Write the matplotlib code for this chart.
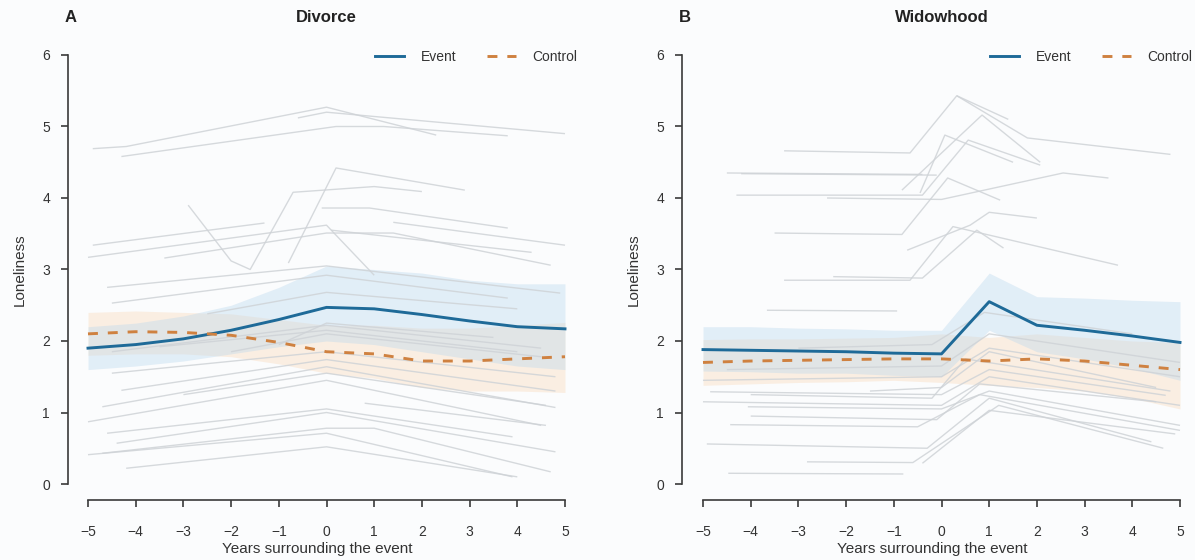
import matplotlib
matplotlib.use("Agg")
import matplotlib.pyplot as plt
import numpy as np

plt.rcParams['font.family'] = ['Liberation Sans', 'DejaVu Sans']

years = [-5, -4, -3, -2, -1, 0, 1, 2, 3, 4, 5]
xticks = years
yticks = [0, 1, 2, 3, 4, 5, 6]

# Panel A: Divorce
div_event = [1.90, 1.95, 2.03, 2.15, 2.30, 2.47, 2.45, 2.37, 2.28, 2.20, 2.17]
div_event_lo = [1.60, 1.65, 1.72, 1.82, 1.92, 2.00, 1.95, 1.85, 1.75, 1.65, 1.60]
div_event_hi = [2.20, 2.25, 2.35, 2.50, 2.75, 3.05, 3.00, 2.95, 2.85, 2.80, 2.80]
div_ctrl = [2.10, 2.13, 2.12, 2.08, 1.98, 1.85, 1.82, 1.72, 1.72, 1.75, 1.78]
div_ctrl_lo = [1.80, 1.82, 1.82, 1.78, 1.68, 1.55, 1.48, 1.35, 1.30, 1.30, 1.28]
div_ctrl_hi = [2.40, 2.42, 2.40, 2.38, 2.30, 2.22, 2.22, 2.18, 2.18, 2.22, 2.26]

div_indiv = [
    ([-4.9, -4.2, 0.0, 2.3], [4.69, 4.72, 5.27, 4.88]),
    ([-4.3, 0.2, 1.2, 3.8], [4.58, 5.00, 5.00, 4.87]),
    ([-0.6, 0.0, 5.0], [5.12, 5.20, 4.90]),
    ([-0.8, 0.2, 2.9], [3.09, 4.42, 4.11]),
    ([-2.9, -2.0, -1.6, -0.7, 1.0, 2.0], [3.90, 3.12, 3.00, 4.08, 4.16, 4.09]),
    ([-0.1, 0.9, 3.8], [3.86, 3.86, 3.58]),
    ([1.4, 5.0], [3.66, 3.34]),
    ([-4.9, -1.3], [3.34, 3.65]),
    ([-5.0, 0.0, 1.0], [3.17, 3.62, 2.92]),
    ([-3.4, 0.0, 1.4, 4.7], [3.16, 3.51, 3.51, 3.06]),
    ([0.1, 4.3], [3.55, 3.24]),
    ([-4.6, 0.0, 4.9], [2.75, 3.05, 2.67]),
    ([-4.5, 0.0, 3.8], [2.53, 2.92, 2.60]),
    ([-2.5, 0.0, 4.0], [2.38, 2.68, 2.45]),
    ([-4.5, 0.0, 4.5], [1.85, 2.22, 1.90]),
    ([-3.5, 0.0, 4.0], [1.92, 2.15, 1.85]),
    ([-2.0, 0.0, 4.5], [1.85, 2.10, 1.78]),
    ([-1.0, 0.0, 3.5], [1.95, 2.25, 2.05]),
    ([-4.5, 0.0, 4.8], [1.55, 1.85, 1.50]),
    ([-4.3, 0.0, 4.8], [1.31, 1.74, 1.30]),
    ([-4.7, 0.0, 4.8], [1.08, 1.64, 1.07]),
    ([-5.0, 0.0, 4.5], [0.87, 1.45, 0.82]),
    ([-4.6, 0.0, 3.9], [0.71, 1.05, 0.66]),
    ([-4.4, 0.0, 4.8], [0.57, 1.00, 0.45]),
    ([-4.7, 0.0, 1.0, 4.7], [0.43, 0.78, 0.78, 0.17]),
    ([-5.0, 0.0, 3.9], [0.41, 0.71, 0.10]),
    ([-4.2, 0.0, 4.0], [0.22, 0.52, 0.10]),
    ([0.8, 4.6], [1.13, 0.82]),
    ([-3.0, 0.0, 4.6], [1.25, 1.55, 1.10]),
]

# Panel B: Widowhood
wid_event = [1.88, 1.87, 1.86, 1.85, 1.83, 1.82, 2.55, 2.22, 2.15, 2.07, 1.98]
wid_event_lo = [1.58, 1.57, 1.55, 1.55, 1.52, 1.50, 2.15, 1.85, 1.75, 1.62, 1.45]
wid_event_hi = [2.20, 2.20, 2.18, 2.17, 2.15, 2.15, 2.95, 2.62, 2.60, 2.57, 2.55]
wid_ctrl = [1.70, 1.72, 1.73, 1.74, 1.75, 1.75, 1.72, 1.75, 1.72, 1.66, 1.60]
wid_ctrl_lo = [1.38, 1.40, 1.42, 1.43, 1.45, 1.42, 1.38, 1.35, 1.30, 1.20, 1.05]
wid_ctrl_hi = [2.02, 2.03, 2.03, 2.04, 2.05, 2.10, 2.05, 2.10, 2.05, 2.00, 1.98]

wid_indiv = [
    ([-3.3, -0.66, 0.32, 1.8, 4.8], [4.66, 4.63, 5.43, 4.84, 4.61]),
    ([0.32, 1.4], [5.43, 5.10]),
    ([-0.83, 0.85, 2.07], [4.11, 5.16, 4.50]),
    ([-4.5, -0.4], [4.35, 4.33]),
    ([-4.2, -0.1], [4.34, 4.32]),
    ([-0.45, 0.07, 1.5], [4.07, 4.88, 4.50]),
    ([-4.3, -0.4, 0.56, 2.07], [4.04, 4.04, 4.81, 4.46]),
    ([-2.4, 0.0, 2.55, 3.5], [4.00, 3.98, 4.35, 4.28]),
    ([-3.5, -0.83, 0.13, 1.23], [3.51, 3.49, 4.28, 3.97]),
    ([-0.72, 0.6, 1.0, 2.0], [3.27, 3.62, 3.80, 3.72]),
    ([-3.3, -0.66, 0.24, 3.7], [2.85, 2.85, 3.60, 3.06]),
    ([-2.27, -0.4, 0.74, 1.3], [2.90, 2.88, 3.55, 3.30]),
    ([-3.66, -0.93], [2.43, 2.42]),
    ([-4.85, 0.0, 1.0, 4.7], [1.29, 1.25, 1.60, 1.24]),
    ([-5.0, 0.0, 1.0, 5.0], [1.15, 1.10, 1.50, 1.10]),
    ([-4.06, 0.0, 1.0, 5.0], [1.08, 1.05, 1.30, 0.82]),
    ([-4.43, -0.5, 0.8, 5.0], [0.83, 0.80, 1.25, 0.75]),
    ([-4.92, -0.3, 1.0, 4.4], [0.56, 0.50, 1.20, 0.59]),
    ([-2.82, -0.6, 1.2, 4.65], [0.31, 0.30, 1.10, 0.50]),
    ([-4.47, -0.8], [0.15, 0.14]),
    ([-4.0, -0.2, 0.5, 4.8], [1.25, 1.20, 1.75, 1.30]),
    ([-5.0, 0.0, 1.0, 5.0], [1.45, 1.50, 1.90, 1.50]),
    ([-4.5, 0.0, 1.0, 5.0], [1.60, 1.65, 2.10, 1.70]),
    ([-4.0, -0.1, 0.8, 4.5], [0.95, 0.90, 1.40, 1.15]),
    ([-0.4, 1.0, 4.9], [0.29, 1.03, 0.70]),
    ([-3.0, -0.2, 0.9, 4.0], [1.90, 1.95, 2.40, 2.10]),
    ([-1.5, 0.0, 1.0, 4.5], [1.30, 1.35, 1.85, 1.35]),
]

panels = [
    dict(letter="A", title="Divorce", event=div_event, elo=div_event_lo, ehi=div_event_hi,
         ctrl=div_ctrl, clo=div_ctrl_lo, chi=div_ctrl_hi, indiv=div_indiv,
         spine_px=68, x0_px=88),
    dict(letter="B", title="Widowhood", event=wid_event, elo=wid_event_lo, ehi=wid_event_hi,
         ctrl=wid_ctrl, clo=wid_ctrl_lo, chi=wid_ctrl_hi, indiv=wid_indiv,
         spine_px=682, x0_px=703),
]

W, H = 1195, 560
fig = plt.figure(figsize=(W / 100, H / 100), dpi=100)
fig.patch.set_facecolor("#fbfcfd")

ppy = 47.7      # pixels per year
ppu = 71.5      # pixels per loneliness unit
y0_px = 484     # pixel row of loneliness 0
xaxis_px = 500  # pixel row of x axis line

blue = "#1e6a98"
orange = "#cf8140"
grey = "#cfd3d7"

for p in panels:
    xmin = -5 - (p["x0_px"] - p["spine_px"]) / ppy
    xmax = 5.28
    ymin = -(xaxis_px - y0_px) / ppu
    ymax = 6.2
    left = p["spine_px"] / W
    width = (xmax - xmin) * ppy / W
    bottom = (H - xaxis_px) / H
    height = (ymax - ymin) * ppu / H
    ax = fig.add_axes([left, bottom, width, height])
    ax.set_facecolor("none")
    ax.set_xlim(xmin, xmax)
    ax.set_ylim(ymin, ymax)

    ax.fill_between(years, p["clo"], p["chi"], color="#fad8b8", alpha=0.38, lw=0, zorder=1)
    ax.fill_between(years, p["elo"], p["ehi"], color="#bcd9ee", alpha=0.40, lw=0, zorder=1)

    for xs, ys in p["indiv"]:
        ax.plot(xs, ys, color=grey, lw=1.0, alpha=0.85, zorder=2, solid_capstyle="butt")

    ax.plot(years, p["event"], color=blue, lw=2.1, zorder=4, label="Event")
    ax.plot(years, p["ctrl"], color=orange, lw=2.1, dashes=(3.4, 3.4), zorder=4,
            label="Control")

    for s in ["top", "right"]:
        ax.spines[s].set_visible(False)
    ax.spines["left"].set_position(("data", xmin))
    ax.spines["left"].set_bounds(0, 6)
    ax.spines["bottom"].set_position(("data", ymin))
    ax.spines["bottom"].set_bounds(-5, 5)
    for s in ["left", "bottom"]:
        ax.spines[s].set_color("#3a3a3a")
        ax.spines[s].set_linewidth(1.2)

    ax.set_xticks(xticks)
    ax.set_yticks(yticks)
    ax.tick_params(axis="x", direction="out", length=5, width=1.2, color="#3a3a3a",
                   pad=13, labelsize=10, labelcolor="#333333")
    ax.tick_params(axis="y", direction="out", length=5, width=1.2, color="#3a3a3a",
                   pad=8, labelsize=10, labelcolor="#333333")

    leg = ax.legend(loc="center right", bbox_to_anchor=(xmax - 0.02, 5.97),
                    bbox_transform=ax.transData, ncol=2, frameon=False,
                    fontsize=10, handlelength=2.1, columnspacing=2.2,
                    handletextpad=1.2, borderpad=0, borderaxespad=0)
    for t in leg.get_texts():
        t.set_color("#333333")

    # panel texts
    fig.text((p["spine_px"] + 3) / W, 1 - 18 / H, p["letter"], fontsize=12,
             fontweight="bold", ha="center", va="center", color="#222222")
    fig.text((p["x0_px"] + 5 * ppy) / W, 1 - 18 / H, p["title"], fontsize=12,
             fontweight="bold", ha="center", va="center", color="#222222")
    fig.text((p["spine_px"] - 48) / W, 1 - 270 / H, "Loneliness", fontsize=11,
             rotation=90, ha="center", va="center", color="#333333")
    fig.text((p["x0_px"] + 4.8 * ppy) / W, 1 - 549 / H, "Years surrounding the event",
             fontsize=11, ha="center", va="center", color="#333333")

fig.savefig("out.png", dpi=100, facecolor=fig.get_facecolor())
